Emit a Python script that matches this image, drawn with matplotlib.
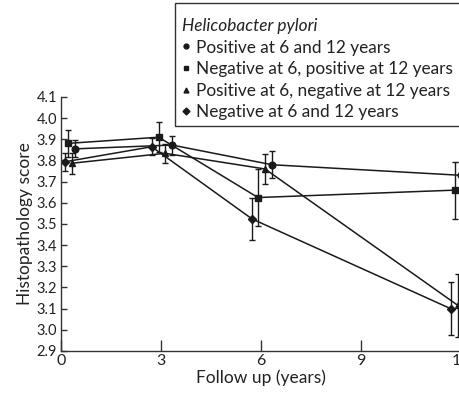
import matplotlib
matplotlib.use('Agg')
import matplotlib.pyplot as plt
from matplotlib.lines import Line2D
from matplotlib.patches import Rectangle

plt.rcParams['font.family'] = ['Lato', 'DejaVu Sans']

# series: label, marker, x positions (years, offset), mean score, error
labels = ['Positive at 6 and 12 years',
          'Negative at 6, positive at 12 years',
          'Positive at 6, negative at 12 years',
          'Negative at 6 and 12 years']
markers = ['o', 's', '^', 'D']

x_pos_pos = [0.42, 3.33, 6.33, 12.0]
y_pos_pos = [3.855, 3.873, 3.78, 3.73]
e_pos_pos = [0.04, 0.045, 0.065, 0.065]

x_neg_pos = [0.22, 2.93, 5.91, 11.82]
y_neg_pos = [3.881, 3.91, 3.625, 3.66]
e_neg_pos = [0.065, 0.07, 0.135, 0.135]

x_pos_neg = [0.32, 3.12, 6.12, 11.91]
y_pos_neg = [3.787, 3.834, 3.76, 3.115]
e_pos_neg = [0.05, 0.045, 0.07, 0.15]

x_neg_neg = [0.12, 2.72, 5.73, 11.69]
y_neg_neg = [3.794, 3.865, 3.524, 3.10]
e_neg_neg = [0.043, 0.04, 0.10, 0.125]

xs = [x_pos_pos, x_neg_pos, x_pos_neg, x_neg_neg]
ys = [y_pos_pos, y_neg_pos, y_pos_neg, y_neg_neg]
es = [e_pos_pos, e_neg_pos, e_pos_neg, e_neg_neg]
msizes = [4.8, 4.5, 4.8, 4.2]

xticks = [0, 3, 6, 9, 12]
yticks = [2.9, 3.0, 3.1, 3.2, 3.3, 3.4, 3.5, 3.6, 3.7, 3.8, 3.9, 4.0, 4.1]

col = '#1a1a1a'
fig = plt.figure(figsize=(4.6, 3.96), dpi=100)
ax = fig.add_axes([61 / 460, 45 / 396, 400 / 460, 254 / 396])

for x, y, e, m, ms in zip(xs, ys, es, markers, msizes):
    ax.errorbar(x, y, yerr=e, marker=m, ms=ms, color=col, lw=1.1,
                elinewidth=1.0, capsize=2, capthick=1.0, clip_on=False)

ax.set_xlim(0, 12)
ax.set_ylim(2.9, 4.1)
ax.set_xticks(xticks)
ax.set_yticks(yticks)
ax.set_yticklabels(['%.1f' % v for v in yticks])
ax.spines['top'].set_visible(False)
ax.spines['right'].set_visible(False)
for s in ['left', 'bottom']:
    ax.spines[s].set_color('#333333')
    ax.spines[s].set_linewidth(1.0)
ax.tick_params(axis='x', direction='in', length=8, width=1, colors='#333333',
               labelsize=11.5, labelcolor='#222222', pad=2)
ax.tick_params(axis='y', direction='in', length=4, width=1, colors='#333333',
               labelsize=10.5, labelcolor='#222222', pad=3)
ax.set_xlabel('Follow up (years)', fontsize=12.5, color='#222222', labelpad=1)
ax.set_ylabel('Histopathology score', fontsize=12.5, color='#222222', labelpad=2)

# legend box runs off the right edge in the original
fig.patches.append(Rectangle((175 / 460, 1 - 126 / 396), 0.7, 123 / 396,
                             transform=fig.transFigure, fill=True,
                             facecolor='white', edgecolor='#333333', lw=1.0))

handles = [Line2D([], [], marker=m, ls='none', color=col, ms=3.5)
           for m in markers]
leg = fig.legend(handles, labels, loc='upper left',
                 bbox_to_anchor=(182 / 460, 1 - 18 / 396),
                 bbox_transform=fig.transFigure,
                 title='Helicobacter pylori', alignment='left',
                 fontsize=12.4, title_fontproperties={'style': 'italic', 'size': 12.4},
                 frameon=False,
                 handlelength=0.5, handletextpad=0.3, labelspacing=0.32,
                 borderpad=0, borderaxespad=0)
leg.get_title().set_color('#222222')
for t in leg.get_texts():
    t.set_color('#222222')

fig.savefig('out.png', dpi=100)
